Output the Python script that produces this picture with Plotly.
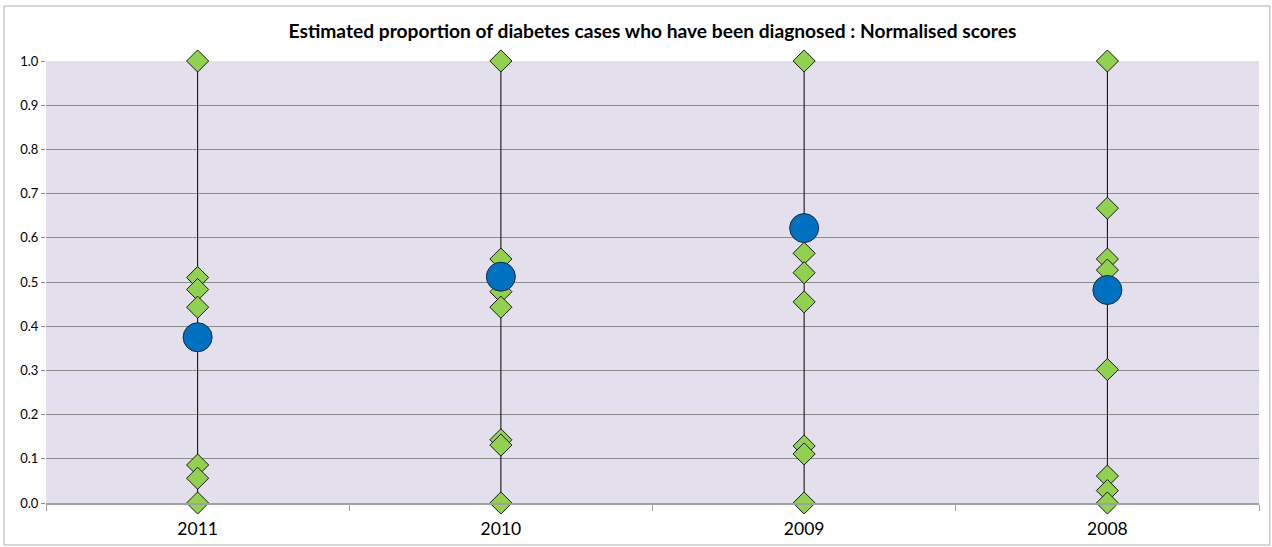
import plotly.graph_objects as go

years = ["2011", "2010", "2009", "2008"]
scores_2011 = [1.0, 0.510, 0.483, 0.443, 0.086, 0.056, 0.0]
scores_2010 = [1.0, 0.552, 0.478, 0.443, 0.143, 0.131, 0.0]
scores_2009 = [1.0, 0.565, 0.521, 0.455, 0.129, 0.111, 0.0]
scores_2008 = [1.0, 0.667, 0.552, 0.527, 0.302, 0.061, 0.028, 0.0]
highlight = [0.375, 0.512, 0.622, 0.482]
y_ticks = [0.0, 0.1, 0.2, 0.3, 0.4, 0.5, 0.6, 0.7, 0.8, 0.9, 1.0]

all_scores = [scores_2011, scores_2010, scores_2009, scores_2008]

fig = go.Figure()

# high-low lines
lx, ly = [], []
for yr, sc in zip(years, all_scores):
    lx += [yr, yr, None]
    ly += [min(sc), max(sc), None]
fig.add_trace(go.Scatter(x=lx, y=ly, mode="lines",
                         line=dict(color="#000000", width=1),
                         hoverinfo="skip", showlegend=False, cliponaxis=False))

# diamonds
dx, dy = [], []
for yr, sc in zip(years, all_scores):
    for v in sc:
        dx.append(yr)
        dy.append(v)
fig.add_trace(go.Scatter(x=dx, y=dy, mode="markers", cliponaxis=False,
                         marker=dict(symbol="diamond", size=17, color="#92D050",
                                     line=dict(color="#1a1a1a", width=1)),
                         showlegend=False))

# highlighted circles
fig.add_trace(go.Scatter(x=years, y=highlight, mode="markers", cliponaxis=False,
                         marker=dict(symbol="circle", size=29, color="#0070C0",
                                     line=dict(color="#1a2a3a", width=1)),
                         showlegend=False))

fig.update_layout(
    width=1272, height=547,
    margin=dict(l=46, r=13, t=61, b=44, autoexpand=False),
    paper_bgcolor="#FFFFFF",
    plot_bgcolor="#E4DFEC",
    font=dict(family="Lato, Open Sans, sans-serif", color="#000000"),
    title=dict(text="<b>Estimated proportion of diabetes cases who have been diagnosed : Normalised scores</b>",
               x=0.5, xref="paper", xanchor="center", y=0.943, yref="container", yanchor="middle",
               font=dict(size=19.2, family="Lato, Open Sans, sans-serif", color="#000000")),
    xaxis=dict(type="category", categoryorder="array", categoryarray=years,
               tickson="boundaries", ticks="outside", ticklen=6, tickcolor="#A0A0A0",
               showgrid=False, showline=True, linecolor="#A0A0A0", linewidth=1.5,
               automargin=False, ticklabelstandoff=9,
               tickfont=dict(size=17.5, color="#000000"), range=[-0.5, 3.5]),
    yaxis=dict(range=[0, 1], tickvals=y_ticks, tickformat=".1f",
               showgrid=True, gridcolor="#8C8C8C", gridwidth=1,
               ticks="outside", ticklen=4, tickcolor="#8C8C8C",
               zeroline=False, showline=False, automargin=False,
               tickfont=dict(size=13, color="#000000")),
    shapes=[dict(type="rect", xref="paper", yref="paper",
                 x0=-0.0346, x1=1.009, y0=-0.095, y1=1.1244,
                 line=dict(color="#B0B0B0", width=1), fillcolor="rgba(0,0,0,0)",
                 layer="below")],
)

fig.write_html("out.html", config={"displayModeBar": False},
               post_script="document.body.style.margin='0';")
